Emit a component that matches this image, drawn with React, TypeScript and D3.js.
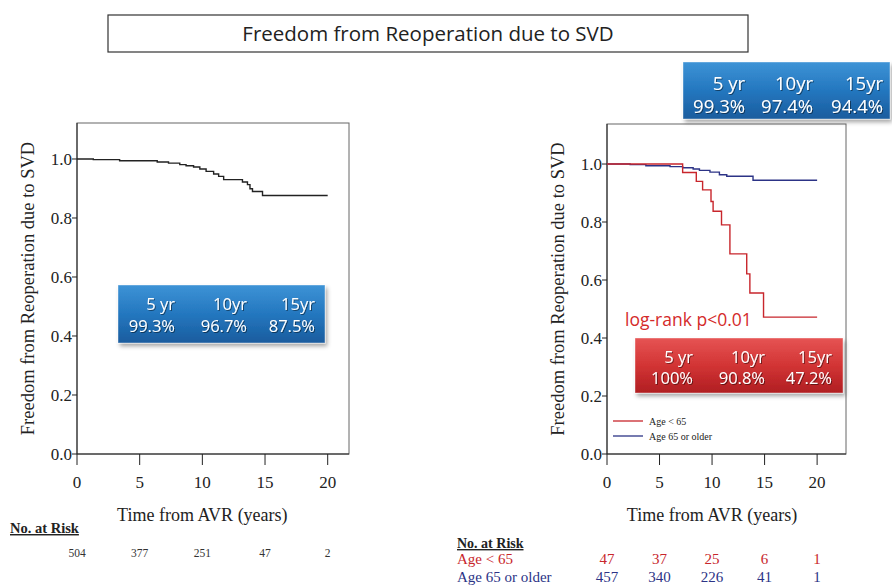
import React from 'react';
import * as d3 from 'd3';

// --- data ---
const timeTicks = [0, 5, 10, 15, 20];
const survTicks = [0, 0.2, 0.4, 0.6, 0.8, 1.0];

// overall Kaplan-Meier (left panel)
const allTimes = [0, 1.3, 3.4, 6.4, 7.3, 8.2, 8.7, 9.3, 9.8, 10.3, 10.9, 11.3, 11.7, 13.2, 13.6, 13.8, 14.0, 14.8, 20];
const allSurv = [1.0, 0.998, 0.994, 0.99, 0.986, 0.981, 0.977, 0.973, 0.966, 0.958, 0.949, 0.941, 0.93, 0.922, 0.913, 0.899, 0.89, 0.876, 0.876];

// age < 65 (red)
const youngTimes = [0, 7.2, 8.5, 9.1, 9.9, 10.1, 10.9, 11.7, 13.3, 13.6, 14.9, 20];
const youngSurv = [1.0, 0.971, 0.94, 0.911, 0.871, 0.837, 0.79, 0.69, 0.621, 0.555, 0.472, 0.472];

// age 65 or older (blue)
const oldTimes = [0, 2.2, 3.7, 6.0, 7.2, 8.2, 8.8, 9.8, 10.7, 11.4, 13.9, 20];
const oldSurv = [1.0, 0.998, 0.994, 0.991, 0.987, 0.983, 0.978, 0.972, 0.963, 0.958, 0.944, 0.944];

const statYears = ['5 yr', '10yr', '15yr'];
const allStats = ['99.3%', '96.7%', '87.5%'];
const oldStats = ['99.3%', '97.4%', '94.4%'];
const youngStats = ['100%', '90.8%', '47.2%'];

const riskAll = [504, 377, 251, 47, 2];
const riskYoung = [47, 37, 25, 6, 1];
const riskOld = [457, 340, 226, 41, 1];

const RED = '#c8262c';
const BLUE = '#2c3386';
const SERIF = '"Liberation Serif", "Times New Roman", serif';
const SANS = '"Open Sans", "Noto Sans", sans-serif';

type Series = { times: number[]; surv: number[]; color: string };

const toPoints = (times: number[], surv: number[]) => times.map((t, i) => [t, surv[i]] as [number, number]);

function Panel({ xr, yr, xMax, yMax, series, labelX }: {
  xr: [number, number]; yr: [number, number]; xMax: number; yMax: number; series: Series[]; labelX: number;
}) {
  const x = d3.scaleLinear().domain([0, xMax]).range(xr);
  const y = d3.scaleLinear().domain([0, yMax]).range(yr);
  const line = d3.line<[number, number]>().x(d => x(d[0])).y(d => y(d[1])).curve(d3.curveStepAfter);
  const mid = (y(0) + y(yMax)) / 2;
  return (
    <g>
      <rect x={x(0)} y={y(yMax)} width={x(xMax) - x(0)} height={y(0) - y(yMax)} fill="none" stroke="#666" strokeWidth={1} />
      <line x1={x(0)} x2={x(0)} y1={y(0)} y2={y(yMax)} stroke="#222" />
      <line x1={x(0)} x2={x(xMax)} y1={y(0)} y2={y(0)} stroke="#222" />
      {survTicks.map(t => (
        <g key={t}>
          <line x1={x(0) - 5} x2={x(0)} y1={y(t)} y2={y(t)} stroke="#222" />
          <text x={x(0) - 5} y={y(t) + 6} textAnchor="end" fontFamily={SERIF} fontSize={17} fill="#222">{t.toFixed(1)}</text>
        </g>
      ))}
      {timeTicks.map(t => (
        <g key={t}>
          <line x1={x(t)} x2={x(t)} y1={y(0)} y2={y(0) + 11} stroke="#222" />
          <text x={x(t)} y={y(0) + 34} textAnchor="middle" fontFamily={SERIF} fontSize={17} fill="#222">{t}</text>
        </g>
      ))}
      {series.map((s, i) => (
        <path key={i} d={line(toPoints(s.times, s.surv)) || ''} fill="none" stroke={s.color} strokeWidth={1.4} />
      ))}
      <text transform={`translate(${labelX},${mid}) rotate(-90)`} textAnchor="middle" fontFamily={SERIF} fontSize={18.5} fill="#222">
        Freedom from Reoperation due to SVD
      </text>
      <text x={(x(0) + x(20)) / 2} y={y(0) + 67} textAnchor="middle" fontFamily={SERIF} fontSize={18} fill="#222">
        Time from AVR (years)
      </text>
    </g>
  );
}

function StatBox({ x, y, w, h, grad, values, cols, base, fs }: {
  x: number; y: number; w: number; h: number; grad: string; values: string[]; cols: number[]; base: [number, number]; fs: number;
}) {
  return (
    <g>
      <rect x={x} y={y} width={w} height={h} fill={`url(#${grad})`} filter="url(#shadow)" stroke="rgba(255,255,255,0.5)" strokeWidth={0.8} />
      {statYears.map((s, i) => (
        <text key={s} x={x + cols[i]} y={y + base[0]} textAnchor="end" fontFamily={SANS} fontSize={fs} fill="#fff" filter="url(#tshadow)">{s}</text>
      ))}
      {values.map((v, i) => (
        <text key={i} x={x + cols[i]} y={y + base[1]} textAnchor="end" fontFamily={SANS} fontSize={fs} fill="#fff" filter="url(#tshadow)">{v}</text>
      ))}
    </g>
  );
}

export default function App() {
  const leftX = d3.scaleLinear().domain([0, 21.7]).range([77, 349]);
  const rightX = d3.scaleLinear().domain([0, 22.75]).range([607, 846]);
  return (
    <svg width={892} height={586} style={{ position: 'absolute', left: 0, top: 0, background: '#fff' }}>
      <defs>
        <linearGradient id="blueG" x1="0" y1="0" x2="0" y2="1">
          <stop offset="0" stopColor="#3d93d6" />
          <stop offset="0.5" stopColor="#2477bf" />
          <stop offset="1" stopColor="#1a5c9e" />
        </linearGradient>
        <linearGradient id="redG" x1="0" y1="0" x2="0" y2="1">
          <stop offset="0" stopColor="#e65454" />
          <stop offset="0.5" stopColor="#d23434" />
          <stop offset="1" stopColor="#b01e22" />
        </linearGradient>
        <filter id="shadow" x="-10%" y="-10%" width="130%" height="140%">
          <feDropShadow dx={2} dy={3} stdDeviation={2} floodColor="#000" floodOpacity={0.35} />
        </filter>
        <filter id="tshadow" x="-10%" y="-20%" width="130%" height="150%">
          <feDropShadow dx={1} dy={1} stdDeviation={0.6} floodColor="#000" floodOpacity={0.45} />
        </filter>
      </defs>

      {/* title */}
      <rect x={108} y={15} width={640} height={37} fill="#fff" stroke="#333" strokeWidth={1.2} />
      <text x={428} y={41} textAnchor="middle" fontFamily={SANS} fontSize={20.5} fill="#222">
        Freedom from Reoperation due to SVD
      </text>

      <Panel xr={[77, 349]} yr={[454, 123]} xMax={21.7} yMax={1.122}
        series={[{ times: allTimes, surv: allSurv, color: '#222' }]} labelX={34} />
      <Panel xr={[607, 846]} yr={[454, 124]} xMax={22.75} yMax={1.138}
        series={[{ times: oldTimes, surv: oldSurv, color: BLUE }, { times: youngTimes, surv: youngSurv, color: RED }]} labelX={564} />

      <StatBox x={118} y={285} w={207} h={58} grad="blueG" values={allStats} cols={[57, 129, 197]} base={[25, 47]} fs={16.5} />
      <StatBox x={683} y={62} w={207} h={57} grad="blueG" values={oldStats} cols={[62, 130, 200]} base={[28, 51]} fs={18.5} />
      <StatBox x={635} y={338} w={208} h={55} grad="redG" values={youngStats} cols={[58, 130, 197]} base={[25, 46]} fs={16.5} />

      <text x={625} y={326} fontFamily={SANS} fontSize={17.5} fill="#d42a2a">log-rank p&lt;0.01</text>

      {/* legend */}
      <line x1={613} x2={643} y1={421} y2={421} stroke={RED} strokeWidth={1.3} />
      <text x={649} y={425} fontFamily={SERIF} fontSize={10} fill="#222">Age &lt; 65</text>
      <line x1={613} x2={643} y1={436} y2={436} stroke={BLUE} strokeWidth={1.3} />
      <text x={649} y={440} fontFamily={SERIF} fontSize={10} fill="#222">Age 65 or older</text>

      {/* numbers at risk, left */}
      <text x={10} y={533} fontFamily={SERIF} fontSize={14.5} fontWeight="bold" textDecoration="underline" fill="#222">No. at Risk</text>
      {riskAll.map((n, i) => (
        <text key={i} x={leftX(timeTicks[i])} y={557} textAnchor="middle" fontFamily={SERIF} fontSize={11.5} fill="#333">{n}</text>
      ))}

      {/* numbers at risk, right */}
      <text x={457} y={548} fontFamily={SERIF} fontSize={14} fontWeight="bold" textDecoration="underline" fill="#222">No. at Risk</text>
      <text x={457} y={564} fontFamily={SERIF} fontSize={15} fill={RED}>Age &lt; 65</text>
      <text x={457} y={582} fontFamily={SERIF} fontSize={15} fill={BLUE}>Age 65 or older</text>
      {riskYoung.map((n, i) => (
        <text key={i} x={rightX(timeTicks[i])} y={564} textAnchor="middle" fontFamily={SERIF} fontSize={15} fill={RED}>{n}</text>
      ))}
      {riskOld.map((n, i) => (
        <text key={i} x={rightX(timeTicks[i])} y={582} textAnchor="middle" fontFamily={SERIF} fontSize={15} fill={BLUE}>{n}</text>
      ))}
    </svg>
  );
}
